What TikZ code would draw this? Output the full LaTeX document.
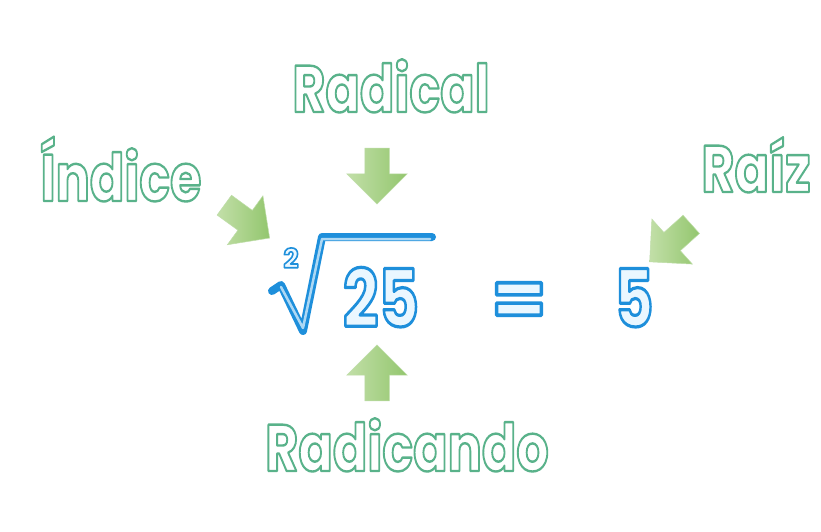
\documentclass[tikz,border=0pt]{standalone}
\usepackage{fontspec}
\setmainfont{Poppins}
\usepackage{graphicx}
\usepackage{tikz}
\usetikzlibrary{positioning, arrows.meta, shapes.arrows, calc}
\definecolor{etiqverde}{HTML}{5DB58C}
\definecolor{flechaclara}{HTML}{C2DFA8}
\definecolor{flechaosc}{HTML}{93C66E}
\definecolor{azulnum}{HTML}{1E8FDB}
\definecolor{azulclaro}{HTML}{EAF7FF}
% texto hueco: relleno + trazo del contorno
\newcommand\huecoverde[1]{\special{pdf:literal direct 2 Tr 2.4 w 1 j 0.35 0.70 0.54 RG}#1\special{pdf:literal direct 0 Tr}}
\newcommand\huecoazul[2]{\special{pdf:literal direct 2 Tr #1 w 1 j 0.118 0.561 0.859 RG}#2\special{pdf:literal direct 0 Tr}}

\begin{document}
\begin{tikzpicture}[x=1pt, y=-1pt,
        etiqueta/.style={anchor=base, inner sep=0pt, text=white, font=\bfseries\fontsize{66}{66}\selectfont},
        numero/.style={anchor=base, inner sep=0pt, text=azulclaro, font=\bfseries\fontsize{80}{80}\selectfont},
        flecha/.style={single arrow, draw=flechaosc!60, line width=0.5pt, left color=flechaclara, right color=flechaosc,
            minimum height=56pt, single arrow head extend=18pt, single arrow tip angle=90, inner sep=12pt},
    ]
        \fill[white] (0,0) rectangle (821,532);
        \useasboundingbox (0,0) rectangle (821,532);
        % etiquetas
        \node[etiqueta] (radical)   at (391,112) {\scalebox{0.77}[1]{\huecoverde{Radical}}};
        \node[etiqueta] (indice)    at (121,201) {\scalebox{0.77}[1]{\huecoverde{Índice}}};
        \node[etiqueta] (raiz)      at (756,192) {\scalebox{0.77}[1]{\huecoverde{Raíz}}};
        \node[etiqueta] (radicando) at (407,471) {\scalebox{0.77}[1]{\huecoverde{Radicando}}};
        % flechas
        \node[flecha, rotate=-90]  (fRadical)   at (377,170) {};
        \node[flecha, rotate=90]   (fRadicando) at (377,379) {};
        \node[flecha, rotate=-36]  (fIndice)    at (242,218) {};
        \node[flecha, rotate=-138] (fRaiz)      at (675,239) {};
        % expresion
        \draw[azulnum, line width=8pt, line join=round, line cap=round] (272,291) -- (281,285) -- (303,331) -- (322,237) -- (432,237);
        \draw[azulclaro!70!azulnum, line width=2.5pt, line join=round, line cap=round] (281,287) -- (303,328) -- (322,239) -- (430,239);
        \node[numero] (veinticinco) at (381,327) {\scalebox{0.78}[1]{\huecoazul{3.2}{25}}};
        \node[numero] (igual)       at (519,327) {\huecoazul{3.6}{=}};
        \node[numero] (cinco)       at (634,327) {\scalebox{0.75}[1]{\huecoazul{3.2}{5}}};
        \node[numero, font=\bfseries\fontsize{27}{27}\selectfont] (indice2) at (291,268) {\huecoazul{1.6}{2}};
\end{tikzpicture}
\end{document}
